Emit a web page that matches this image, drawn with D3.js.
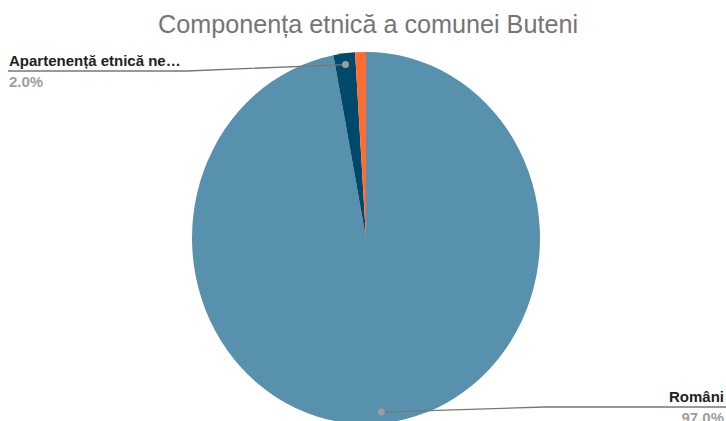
<!DOCTYPE html>
<html>
<head>
<meta charset="utf-8">
<script src="https://cdn.jsdelivr.net/npm/d3@7"></script>
<style>
  body { margin: 0; background: #fff; }
  text { font-family: "Liberation Sans", Arial, sans-serif; }
</style>
</head>
<body>
<div id="output"></div>
<script>
var w = 726;   // width of the svg
var h = 421;   // height of the svg

// data
var categories = ['Români', 'Apartenență etnică necunoscută', 'Alte etnii'];
var values = [97.0, 2.0, 1.0];
var colors = ['#5891ad', '#00496a', '#ff6c2f'];
var title = 'Componența etnică a comunei Buteni';

var cx = 366, cy = 238;   // pie centre
var rx = 174, ry = 186;   // the pie is stretched a bit vertically

var svg = d3.select('#output').append('svg')
  .attr('width', w)
  .attr('height', h);

svg.append('text')
  .attr('x', 368)
  .attr('y', 33)
  .attr('text-anchor', 'middle')
  .attr('font-size', 25.2)
  .attr('fill', '#757575')
  .text(title);

var data = categories.map(function(c, i) { return { name: c, value: values[i], color: colors[i] }; });

var pie = d3.pie().sort(null).value(function(d) { return d.value; });
var arc = d3.arc().innerRadius(0).outerRadius(ry);
var arcs = pie(data);

var g = svg.append('g')
  .attr('transform', 'translate(' + cx + ',' + cy + ') scale(' + (rx / ry) + ',1)');

g.selectAll('path')
  .data(arcs)
  .enter()
  .append('path')
  .attr('d', arc)
  .attr('fill', function(d) { return d.data.color; })
  .attr('stroke', 'none');

// leader lines + labels for the first two slices
var total = d3.sum(values);
var labels = [
  { i: 0, side: 'right', y: 407 },
  { i: 1, side: 'left', y: 71 }
];

function dotPoint(a) {
  var m = (a.startAngle + a.endAngle) / 2;
  var r = ry * 0.94;
  return [cx + Math.sin(m) * r * (rx / ry), cy - Math.cos(m) * r];
}

labels.forEach(function(l) {
  var a = arcs[l.i];
  var p = dotPoint(a);
  var elbowX = l.side === 'left' ? 187 : 545;
  var endX = l.side === 'left' ? 8 : w;
  svg.append('path')
    .attr('d', 'M' + p[0] + ',' + p[1] + 'L' + elbowX + ',' + l.y + 'L' + endX + ',' + l.y)
    .attr('fill', 'none')
    .attr('stroke', '#777')
    .attr('stroke-width', 1.3);
  svg.append('circle')
    .attr('cx', p[0]).attr('cy', p[1]).attr('r', 3.5)
    .attr('fill', '#9e9e9e');

  var tx = l.side === 'left' ? 9 : 724;
  var anchor = l.side === 'left' ? 'start' : 'end';
  var name = a.data.name;
  if (l.side === 'left') name = 'Apartenență etnică ne…';
  svg.append('text')
    .attr('x', tx).attr('y', l.y - 5)
    .attr('text-anchor', anchor)
    .attr('font-size', 15)
    .attr('font-weight', 'bold')
    .attr('fill', '#222')
    .text(name);
  svg.append('text')
    .attr('x', tx).attr('y', l.y + 16)
    .attr('text-anchor', anchor)
    .attr('font-size', 15)
    .attr('font-weight', 'bold')
    .attr('fill', '#9e9e9e')
    .text((a.data.value / total * 100).toFixed(1) + '%');
});
</script>
</body>
</html>
